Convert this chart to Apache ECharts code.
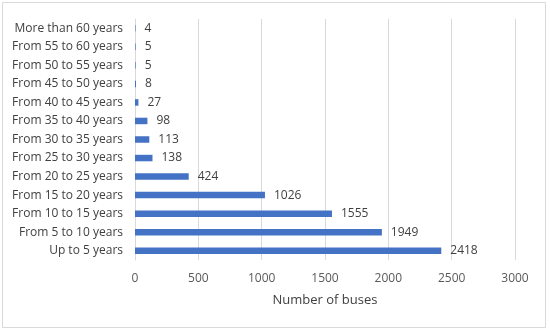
<!DOCTYPE html>
<html><head><meta charset="utf-8">
<script src="https://cdn.jsdelivr.net/npm/echarts@6/dist/echarts.min.js"></script>
<style>html,body{margin:0;padding:0;background:#fff}#c{width:550px;height:331px}</style>
</head><body><div id="c"></div>
<script>
const categories = ["More than 60 years","From 55 to 60 years","From 50 to 55 years","From 45 to 50 years","From 40 to 45 years","From 35 to 40 years","From 30 to 35 years","From 25 to 30 years","From 20 to 25 years","From 15 to 20 years","From 10 to 15 years","From 5 to 10 years","Up to 5 years"];
const buses = [4,5,5,8,27,98,113,138,424,1026,1555,1949,2418];
const xTicks = [0,500,1000,1500,2000,2500,3000];
const font = "'Open Sans', sans-serif";
const chart = echarts.init(document.getElementById('c'));
chart.setOption({
  animation:false,
  graphic:[{type:'rect',shape:{x:2.5,y:2.5,width:543,height:325},style:{fill:null,stroke:'#d9d9d9',lineWidth:1},silent:true}],
  grid:{left:135,right:35,top:19,bottom:71,containLabel:false},
  xAxis:{type:'value',min:xTicks[0],max:xTicks[xTicks.length-1],interval:500,
    name:'Number of buses',nameLocation:'middle',nameGap:34,
    nameTextStyle:{color:'#404040',fontSize:13,fontFamily:font},
    axisLine:{show:false},axisTick:{show:false},
    axisLabel:{color:'#595959',fontSize:12,fontFamily:font,margin:13,formatter:v=>String(v)},
    splitLine:{lineStyle:{color:'#d9d9d9',width:1}}},
  yAxis:{type:'category',data:categories,inverse:true,
    axisLine:{show:true,lineStyle:{color:'#d9d9d9'}},axisTick:{show:false},
    axisLabel:{color:'#404040',fontSize:12,fontFamily:font,margin:12}},
  series:[{type:'bar',data:buses,barWidth:6.5,itemStyle:{color:'#4472C4'},
    label:{show:true,position:'right',distance:9,color:'#404040',fontSize:12,fontFamily:font}}]
});
</script></body></html>
